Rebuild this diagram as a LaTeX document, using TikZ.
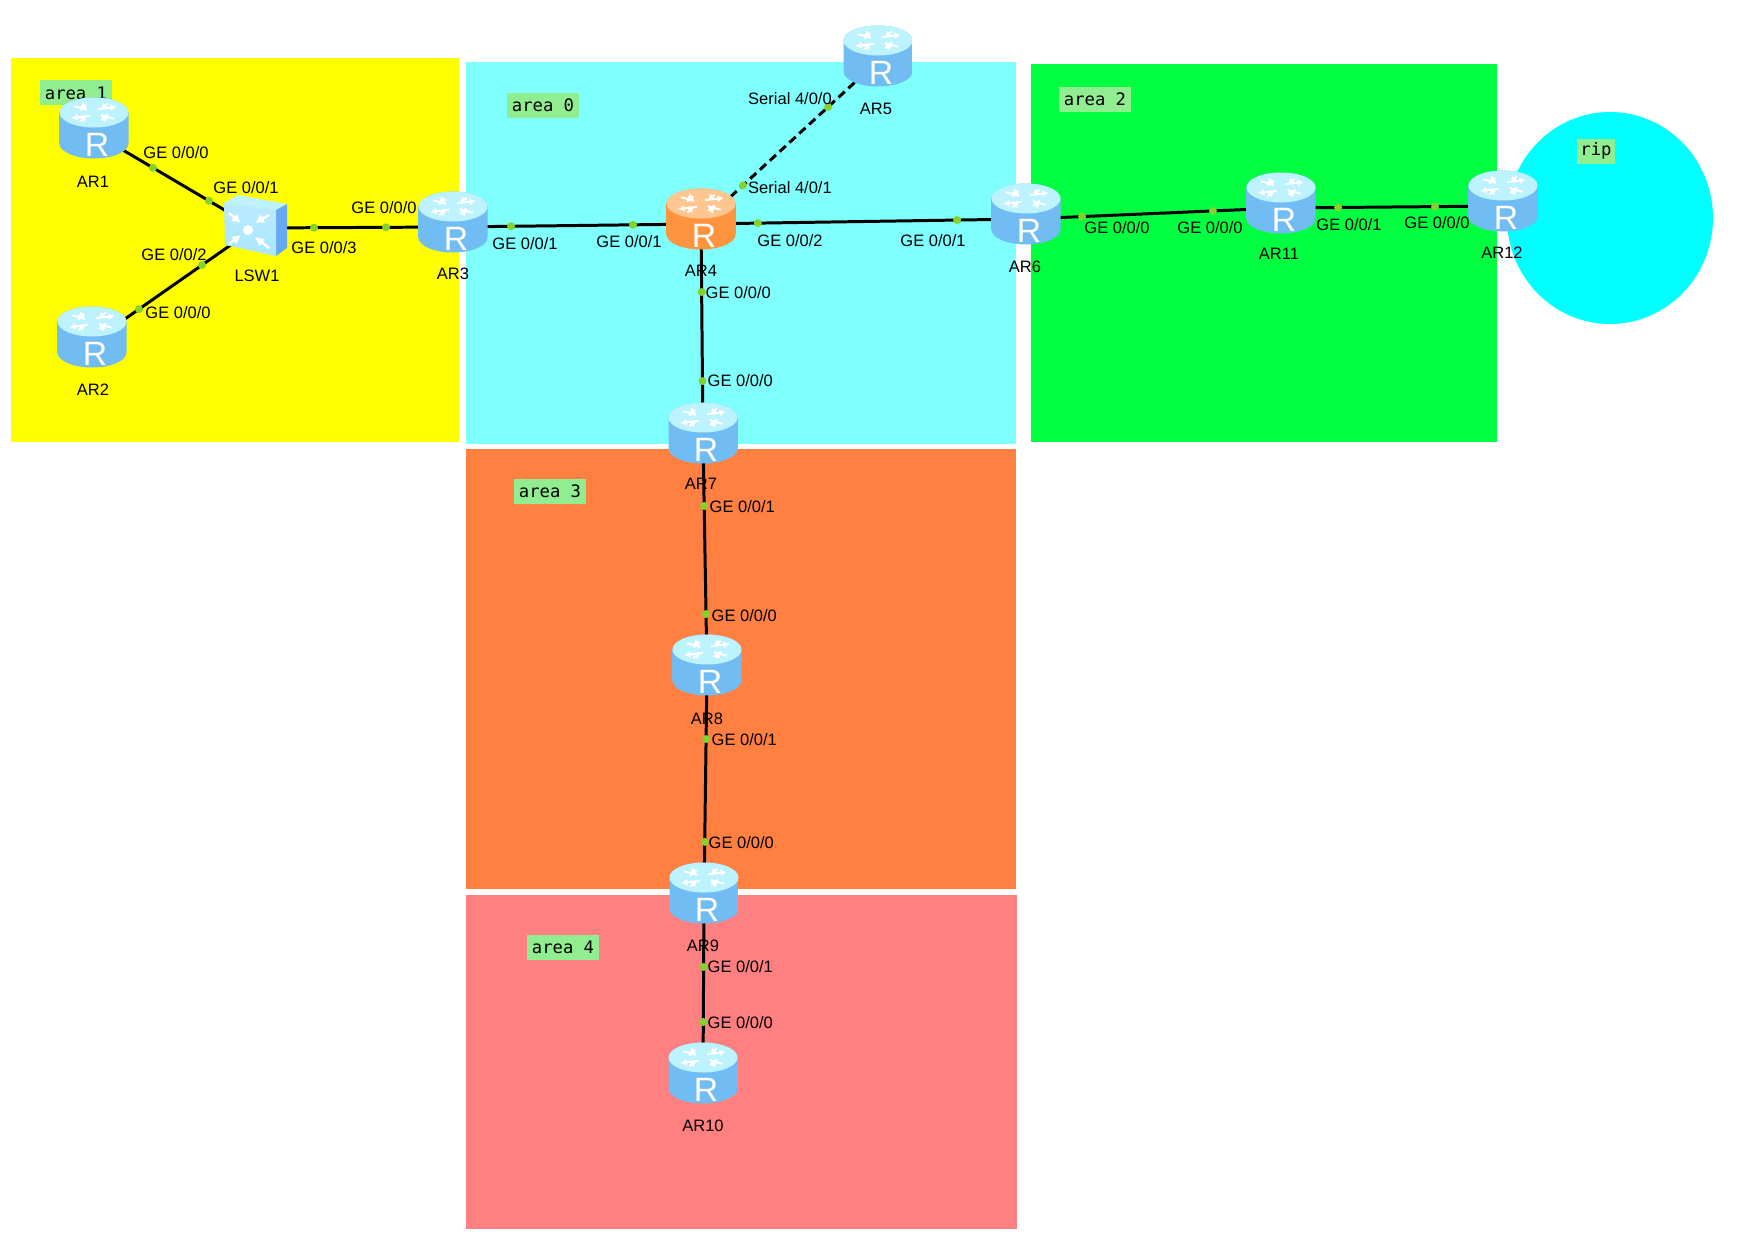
\documentclass[tikz,border=0pt]{standalone}
\usepackage{fontspec}
\setmainfont{Liberation Sans}
\setmonofont{DejaVu Sans Mono}
\usetikzlibrary{arrows.meta}
\definecolor{netYellow}{HTML}{FFFF00}
\definecolor{netCyan}{HTML}{80FFFF}
\definecolor{netGreen}{HTML}{00FF40}
\definecolor{netOrange}{HTML}{FF8040}
\definecolor{netPink}{HTML}{FF8080}
\definecolor{netRip}{HTML}{00FFFF}
\definecolor{netTag}{HTML}{90EE90}
\definecolor{netPort}{HTML}{84D22E}
\definecolor{rtTop}{HTML}{BDF3FF}
\definecolor{rtSide}{HTML}{72BCF4}
\definecolor{rtMid}{HTML}{A9E6FF}
\definecolor{rkTop}{HTML}{FFC78F}
\definecolor{rkSide}{HTML}{FF9440}
\definecolor{rkMid}{HTML}{FFB878}
\tikzset{
  net diagram/.style={font=\fontsize{4.7}{5.6}\selectfont, text=black, line cap=butt},
  net area tag/.style={fill=netTag, inner sep=0pt, minimum width=7.2mm, minimum height=2.5mm,
    font=\ttfamily\fontsize{4.9}{5.8}\selectfont},
  net node/.style={inner sep=0pt, minimum width=4mm, minimum height=4mm},
  net link/.style={draw=black, line width=0.85pt},
  net serial/.style={net link, dash pattern=on 2.4pt off 1.4pt},
  net port/.style={circle, fill=netPort, inner sep=0pt, minimum size=0.8mm},
  net label/.style={inner sep=0pt},
  pics/net router/.style n args={3}{code={
    \begin{scope}[yshift=.5mm]
    \shade[left color=#2, middle color=#3, right color=#2]
      (-.345,.155) -- (-.345,-.155) arc[start angle=180,end angle=360,x radius=.345,y radius=.15]
      -- (.345,.155) arc[start angle=0,end angle=180,x radius=.345,y radius=.15] -- cycle;
    \fill[#1] (0,.155) ellipse[x radius=.345,y radius=.15];
    \begin{scope}[shift={(0,.155)},yscale=.45]
      \foreach \a in {15,105,195,285}
        \draw[rotate=\a, white, line width=.55pt, -{Latex[length=.6mm,width=.7mm]}] (.06,.06) -- (.25,.06);
      \foreach \a in {60,150,240,330}
        \draw[rotate=\a, white, line width=.55pt, -{Latex[length=.6mm,width=.7mm]}] (.24,-.02) -- (.1,-.02);
    \end{scope}
    \node[text=white, inner sep=0pt, font=\fontsize{9.6}{10}\selectfont] (r) at (.03,-.17) {R};
    \end{scope}
  }},
  pics/net switch/.style={code={
    \fill[rtTop] (-.31,.25) -- (-.17,.33) -- (.32,.24) -- (.21,.18) -- cycle;
    \fill[rtSide!90!blue] (.21,.18) -- (.32,.24) -- (.32,-.20) -- (.21,-.28) -- cycle;
    \shade[top color=rtMid!80!white, bottom color=rtMid] (-.31,.25) -- (.21,.18) -- (.21,-.28) -- (-.30,-.17) -- cycle;
    \fill[white] (-.07,-.02) circle[radius=.05];
    \foreach \p/\q in {-.26/.14/-.14/.05, -.25/-.14/-.14/-.07, .14/.12/.0/.05, .14/-.19/.0/-.09}
      \draw[white, line width=.7pt];
    \draw[white, line width=.7pt, -{Latex[length=.9mm,width=1mm]}] (-.26,.15) -- (-.14,.05);
    \draw[white, line width=.7pt, -{Latex[length=.9mm,width=1mm]}] (.14,.13) -- (.0,.05);
    \draw[white, line width=.7pt, -{Latex[length=.9mm,width=1mm]}] (-.26,-.16) -- (-.14,-.07);
    \draw[white, line width=.7pt, -{Latex[length=.9mm,width=1mm]}] (.14,-.2) -- (.0,-.09);
  }}
}
\begin{document}
\begin{tikzpicture}[net diagram]
\useasboundingbox (0,0) rectangle (17.6,-12.47);
% areas
\fill[netYellow] (.11,-.58) rectangle (4.59,-4.42);
\fill[netCyan] (4.66,-.62) rectangle (10.16,-4.44);
\fill[netGreen] (10.31,-.64) rectangle (14.97,-4.42);
\fill[netOrange] (4.66,-4.49) rectangle (10.16,-8.89);
\fill[netPink] (4.66,-8.95) rectangle (10.17,-12.29);
\fill[netRip] (16.1,-2.18) ellipse[x radius=1.03,y radius=1.06];
\node[net area tag] (tag1) at (.76,-.93) {area 1};
\node[net area tag] (tag0) at (5.43,-1.05) {area 0};
\node[net area tag] (tag2) at (10.95,-.99) {area 2};
\node[net area tag] (tag3) at (5.5,-4.91) {area 3};
\node[net area tag] (tag4) at (5.63,-9.47) {area 4};
\node[net area tag, minimum width=3.8mm] (tagrip) at (15.96,-1.51) {rip};
% devices
\node[net node] (ar1) at (.94,-1.33) {};
\node[net node] (ar2) at (.92,-3.42) {};
\node[net node] (lsw1) at (2.55,-2.28) {};
\node[net node] (ar3) at (4.53,-2.27) {};
\node[net node] (ar4) at (7.01,-2.24) {};
\node[net node] (ar5) at (8.78,-.61) {};
\node[net node] (ar6) at (10.26,-2.19) {};
\node[net node] (ar7) at (7.03,-4.38) {};
\node[net node] (ar8) at (7.07,-6.70) {};
\node[net node] (ar9) at (7.04,-8.98) {};
\node[net node] (ar10) at (7.03,-10.78) {};
\node[net node] (ar11) at (12.81,-2.08) {};
\node[net node] (ar12) at (15.03,-2.06) {};
% links
\draw[net link] (ar1.center) -- (lsw1.center) node[net port,pos=.366] (p1a) {} node[net port,pos=.714] (p1b) {};
\draw[net link] (ar2.center) -- (lsw1.center) node[net port,pos=.288] (p2a) {} node[net port,pos=.675] (p2b) {};
\draw[net link] (lsw1.center) -- (ar3.center) node[net port,pos=.298] (p3a) {} node[net port,pos=.662] (p3b) {};
\draw[net link] (ar3.center) -- (ar4.center) node[net port,pos=.234] (p4a) {} node[net port,pos=.726] (p4b) {};
\draw[net link] (ar4.center) -- (ar6.center) node[net port,pos=.175] (p5a) {} node[net port,pos=.788] (p5b) {};
\draw[net serial] (ar4.center) -- (ar5.center) node[net port,pos=.237] (p6a) {} node[net port,pos=.718] (p6b) {};
\draw[net link] (ar4.center) -- (ar7.center) node[net port,pos=.318] (p7a) {} node[net port,pos=.734] (p7b) {};
\draw[net link] (ar7.center) -- (ar8.center) node[net port,pos=.293] (p8a) {} node[net port,pos=.759] (p8b) {};
\draw[net link] (ar8.center) -- (ar9.center) node[net port,pos=.303] (p9a) {} node[net port,pos=.754] (p9b) {};
\draw[net link] (ar9.center) -- (ar10.center) node[net port,pos=.383] (p10a) {} node[net port,pos=.689] (p10b) {};
\draw[net link] (ar6.center) -- (ar11.center) node[net port,pos=.22] (p11a) {} node[net port,pos=.733] (p11b) {};
\draw[net link] (ar11.center) -- (ar12.center) node[net port,pos=.257] (p12a) {} node[net port,pos=.694] (p12b) {};
% icons
\pic (icon1) at (ar1) {net router={rtTop}{rtSide}{rtMid}};
\pic (icon2) at (ar2) {net router={rtTop}{rtSide}{rtMid}};
\pic (iconsw) at (lsw1) {net switch};
\pic (icon3) at (ar3) {net router={rtTop}{rtSide}{rtMid}};
\pic (icon4) at (ar4) {net router={rkTop}{rkSide}{rkMid}};
\pic (icon5) at (ar5) {net router={rtTop}{rtSide}{rtMid}};
\pic (icon6) at (ar6) {net router={rtTop}{rtSide}{rtMid}};
\pic (icon7) at (ar7) {net router={rtTop}{rtSide}{rtMid}};
\pic (icon8) at (ar8) {net router={rtTop}{rtSide}{rtMid}};
\pic (icon9) at (ar9) {net router={rtTop}{rtSide}{rtMid}};
\pic (icon10) at (ar10) {net router={rtTop}{rtSide}{rtMid}};
\pic (icon11) at (ar11) {net router={rtTop}{rtSide}{rtMid}};
\pic (icon12) at (ar12) {net router={rtTop}{rtSide}{rtMid}};
% device names
\node[net label] (n1) at (.93,-1.82) {AR1};
\node[net label] (n2) at (.93,-3.9) {AR2};
\node[net label] (nsw) at (2.57,-2.76) {LSW1};
\node[net label] (n3) at (4.53,-2.74) {AR3};
\node[net label] (n4) at (7.01,-2.71) {AR4};
\node[net label] (n5) at (8.76,-1.09) {AR5};
\node[net label] (n6) at (10.25,-2.67) {AR6};
\node[net label] (n7) at (7.01,-4.84) {AR7};
\node[net label] (n8) at (7.07,-7.19) {AR8};
\node[net label] (n9) at (7.03,-9.46) {AR9};
\node[net label] (n10) at (7.03,-11.26) {AR10};
\node[net label] (n11) at (12.79,-2.54) {AR11};
\node[net label] (n12) at (15.02,-2.53) {AR12};
% port labels
\node[net label] (l1a) at (1.76,-1.53) {GE 0/0/0};
\node[net label] (l1b) at (2.46,-1.88) {GE 0/0/1};
\node[net label] (l2b) at (1.74,-2.55) {GE 0/0/2};
\node[net label] (l2a) at (1.78,-3.13) {GE 0/0/0};
\node[net label] (l3a) at (3.24,-2.48) {GE 0/0/3};
\node[net label] (l3b) at (3.84,-2.08) {GE 0/0/0};
\node[net label] (l4a) at (5.25,-2.44) {GE 0/0/1};
\node[net label] (l4b) at (6.29,-2.42) {GE 0/0/1};
\node[net label] (l5a) at (7.9,-2.41) {GE 0/0/2};
\node[net label] (l5b) at (9.33,-2.41) {GE 0/0/1};
\node[net label] (l6b) at (7.9,-.99) {Serial 4/0/0};
\node[net label] (l6a) at (7.9,-1.88) {Serial 4/0/1};
\node[net label,anchor=west] (l7a) at (7.05,-2.93) {GE 0/0/0};
\node[net label,anchor=west] (l7b) at (7.07,-3.81) {GE 0/0/0};
\node[net label,anchor=west] (l8a) at (7.09,-5.07) {GE 0/0/1};
\node[net label,anchor=west] (l8b) at (7.11,-6.16) {GE 0/0/0};
\node[net label,anchor=west] (l9a) at (7.11,-7.40) {GE 0/0/1};
\node[net label,anchor=west] (l9b) at (7.08,-8.43) {GE 0/0/0};
\node[net label,anchor=west] (l10a) at (7.07,-9.67) {GE 0/0/1};
\node[net label,anchor=west] (l10b) at (7.07,-10.23) {GE 0/0/0};
\node[net label] (l11a) at (11.17,-2.28) {GE 0/0/0};
\node[net label] (l11b) at (12.1,-2.28) {GE 0/0/0};
\node[net label] (l12a) at (13.49,-2.25) {GE 0/0/1};
\node[net label] (l12b) at (14.37,-2.23) {GE 0/0/0};
\end{tikzpicture}
\end{document}
